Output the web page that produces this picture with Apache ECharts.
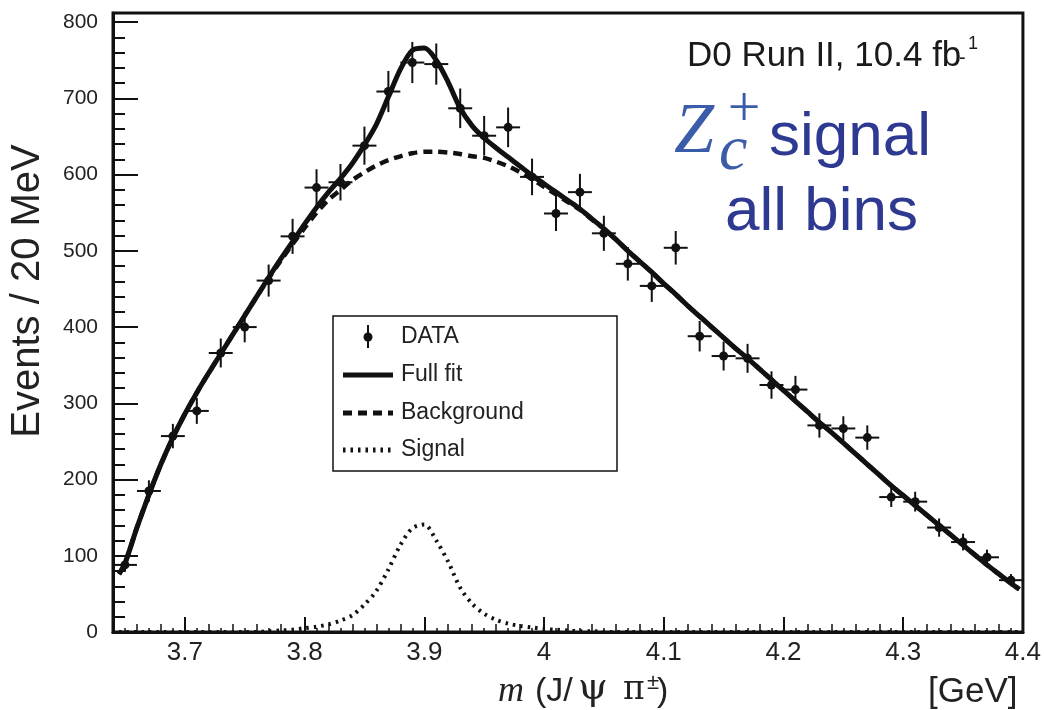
<!DOCTYPE html>
<html><head><meta charset="utf-8">
<script src="https://cdn.jsdelivr.net/npm/echarts@6/dist/echarts.min.js"></script>
<style>html,body{margin:0;padding:0;background:#fff}#chart{width:1044px;height:710px}</style>
</head><body><div id="chart"></div>
<script>
// ---- data ----
const binCenters = [3.65,3.67,3.69,3.71,3.73,3.75,3.77,3.79,3.81,3.83,3.85,3.87,3.89,3.91,3.93,3.95,3.97,3.99,4.01,4.03,4.05,4.07,4.09,4.11,4.13,4.15,4.17,4.19,4.21,4.23,4.25,4.27,4.29,4.31,4.33,4.35,4.37,4.39];
const counts = [88,185,257,290,366,400,461,519,583,590,638,709,747,745,687,651,662,597,549,577,523,483,454,504,388,362,359,324,318,271,267,255,177,171,137,118,98,68];
const errors = [9,14,16,17,19,20,21,23,24,24,25,27,27,27,26,26,26,24,23,24,23,22,21,22,20,19,19,18,18,16,16,16,13,13,12,11,10,8];

const fitX = [3.645,3.65,3.66,3.67,3.68,3.69,3.70,3.71,3.72,3.73,3.74,3.75,3.76,3.77,3.78,3.79,3.80,3.81,3.82,3.83,3.84,3.85,3.86,3.87,3.88,3.89,3.90,3.91,3.92,3.93,3.94,3.95,3.96,3.97,3.98,3.99,4.00,4.01,4.02,4.03,4.04,4.05,4.06,4.07,4.08,4.09,4.10,4.11,4.12,4.13,4.14,4.15,4.16,4.17,4.18,4.19,4.20,4.21,4.22,4.23,4.24,4.25,4.26,4.27,4.28,4.29,4.30,4.31,4.32,4.33,4.34,4.35,4.36,4.37,4.38,4.39,4.397];
const fullFit = [76,90,137,180,220,255,286,314,340,365,390,415,440,465,489,512,535,557,577,595,615,639,666,702,738,763,766,750,721,687,664,648,635,623,611,599,588,577,566,555,542,529,515,500,486,472,457,443,428,414,400,386,372,359,345,331,317,303,289,275,262,248,234,220,206,192,179,166,153,140,127,114,101,88,76,64,56];
const background = [76,90,137,180,220,255,286,314,340,365,390,415,440,464,487,509,530,550,567,580,593,603,612,619,624,628,630,630,629,627,624,622,617,611,603,594,584,574,564,554,541,529,515,500,486,472,457,443,428,414,400,386,372,359,345,331,317,303,289,275,262,248,234,220,206,192,179,166,153,140,127,114,101,88,76,64,56];
const signal = [0,0,0,0,0,0,0,0,0,0,0,0,0,1,2,3,5,7,10,15,22,36,54,82,114,136,141,120,92,58,37,24,16,11,8,6,4,3,2,1,1,0,0,0,0,0,0,0,0,0,0,0,0,0,0,0,0,0,0,0,0,0,0,0,0,0,0,0,0,0,0,0,0,0,0,0,0];

const xTickLabels = [3.7,3.8,3.9,4,4.1,4.2,4.3,4.4];
const yTickLabels = [0,100,200,300,400,500,600,700,800];

// minor tick positions (styling only)
const xMinor2 = [], xMinor1 = [], yMinor = [];
for (let i = 64; i <= 440; i++) {
  const v = Math.round(i) / 100;
  if (i % 10 === 0) continue;
  if (i % 2 === 0) xMinor2.push(v); else xMinor1.push(v);
}
for (let v = 20; v < 810; v += 20) if (v % 100 !== 0) yMinor.push(v);

const pairs = (xs, ys) => xs.map((x, i) => [x, ys[i]]);
const SANS = 'Liberation Sans, Arial, Helvetica, sans-serif';
const SERIF = 'Liberation Serif, Times New Roman, serif';
const GREEK = 'DejaVu Serif, Liberation Serif, serif';
const INK = '#111';

const chart = echarts.init(document.getElementById('chart'), null, {renderer: 'canvas'});

const xBase = {type: 'value', min: 3.64, max: 4.40, gridIndex: 0, position: 'bottom', splitLine: {show: false}};
const yBase = {type: 'value', min: 0, max: 812, gridIndex: 0, position: 'left', splitLine: {show: false}};

const option = {
  animation: false,
  backgroundColor: '#fff',
  grid: {left: 113, right: 19, top: 13, bottom: 78, show: true, borderColor: INK, borderWidth: 3, backgroundColor: '#fff'},
  xAxis: [
    Object.assign({}, xBase, {
      axisLine: {show: true, onZero: false, lineStyle: {color: INK, width: 3}},
      axisTick: {show: true, inside: true, length: 15, lineStyle: {color: INK, width: 2}, customValues: xTickLabels},
      axisLabel: {show: true, customValues: xTickLabels, fontSize: 26, fontFamily: SANS, color: '#222', margin: 8}
    }),
    Object.assign({}, xBase, {
      axisLine: {show: false, onZero: false},
      axisTick: {show: true, inside: true, length: 8, lineStyle: {color: INK, width: 1.5}, customValues: xMinor2},
      axisLabel: {show: false}
    }),
    Object.assign({}, xBase, {
      axisLine: {show: false, onZero: false},
      axisTick: {show: true, inside: true, length: 4, lineStyle: {color: INK, width: 1.5}, customValues: xMinor1},
      axisLabel: {show: false}
    })
  ],
  yAxis: [
    Object.assign({}, yBase, {
      axisLine: {show: true, onZero: false, lineStyle: {color: INK, width: 3}},
      axisTick: {show: true, inside: true, length: 25, lineStyle: {color: INK, width: 2}, customValues: yTickLabels},
      axisLabel: {show: true, customValues: yTickLabels, fontSize: 21, fontFamily: SANS, color: '#222', margin: 15}
    }),
    Object.assign({}, yBase, {
      axisLine: {show: false, onZero: false},
      axisTick: {show: true, inside: true, length: 12, lineStyle: {color: INK, width: 2}, customValues: yMinor},
      axisLabel: {show: false}
    })
  ],
  series: [
    {
      name: 'DATA', type: 'custom', xAxisIndex: 0, yAxisIndex: 0,
      data: binCenters.map((x, i) => [x, counts[i], errors[i]]),
      encode: {x: 0, y: 1},
      renderItem: function (params, api) {
        const x = api.value(0), y = api.value(1), e = api.value(2);
        const half = 0.01;
        const c = api.coord([x, y]);
        const t = api.coord([x, y + e]);
        const b = api.coord([x, y - e]);
        const l = api.coord([x - half, y]);
        const r = api.coord([x + half, y]);
        const ls = {stroke: INK, lineWidth: 2};
        return {type: 'group', children: [
          {type: 'line', shape: {x1: c[0], y1: t[1], x2: c[0], y2: b[1]}, style: ls},
          {type: 'line', shape: {x1: l[0], y1: c[1], x2: r[0], y2: c[1]}, style: ls},
          {type: 'circle', shape: {cx: c[0], cy: c[1], r: 4.5}, style: {fill: INK}}
        ]};
      },
      z: 2
    },
    {
      name: 'Signal', type: 'line', data: pairs(fitX, signal), showSymbol: false, smooth: 0.3,
      lineStyle: {color: INK, width: 4, type: [2.5, 5]}, z: 3
    },
    {
      name: 'Background', type: 'line', data: pairs(fitX, background), showSymbol: false, smooth: 0.3,
      lineStyle: {color: INK, width: 4.5, type: [9, 6]}, z: 3
    },
    {
      name: 'Full fit', type: 'line', data: pairs(fitX, fullFit), showSymbol: false, smooth: 0.3,
      lineStyle: {color: INK, width: 5}, z: 4
    }
  ],
  graphic: [
    // axis titles
    {type: 'text', x: 28, y: 291, rotation: Math.PI / 2,
      style: {text: 'Events / 20 MeV', font: '40px ' + SANS, fill: '#222', textAlign: 'center', textVerticalAlign: 'middle', align: 'center', verticalAlign: 'middle'}},
    {type: 'text', x: 498, y: 692, style: {text: 'm', font: 'italic 36px ' + SERIF, fill: '#222', textVerticalAlign: 'middle', verticalAlign: 'middle'}},
    {type: 'text', x: 535, y: 692, style: {text: '(J/', font: '34px ' + SANS, fill: '#222', textVerticalAlign: 'middle', verticalAlign: 'middle'}},
    {type: 'text', x: 578, y: 689, style: {text: 'ψ', font: '38px ' + GREEK, fill: '#222', textVerticalAlign: 'middle', verticalAlign: 'middle'}},
    {type: 'text', x: 623, y: 690, style: {text: 'π', font: '33px ' + GREEK, fill: '#222', textVerticalAlign: 'middle', verticalAlign: 'middle'}},
    {type: 'text', x: 647, y: 683, style: {text: '±', font: '22px ' + SANS, fill: '#222', textVerticalAlign: 'middle', verticalAlign: 'middle'}},
    {type: 'text', x: 657, y: 692, style: {text: ')', font: '34px ' + SANS, fill: '#222', textVerticalAlign: 'middle', verticalAlign: 'middle'}},
    {type: 'text', x: 928, y: 692, style: {text: '[GeV]', font: '35px ' + SANS, fill: '#222', textVerticalAlign: 'middle', verticalAlign: 'middle'}},
    // top-right annotations
    {type: 'text', x: 687, y: 56, style: {text: 'D0 Run II, 10.4 fb', font: '35px ' + SANS, fill: '#1a1a1a', textVerticalAlign: 'middle', verticalAlign: 'middle'}},
    {type: 'text', x: 959, y: 58, style: {text: '-', font: '20px ' + SANS, fill: '#1a1a1a', textVerticalAlign: 'middle', verticalAlign: 'middle'}},
    {type: 'text', x: 968, y: 44, style: {text: '1', font: '18px ' + SANS, fill: '#1a1a1a', textVerticalAlign: 'middle', verticalAlign: 'middle'}},
    {type: 'text', x: 674, y: 133, style: {text: 'Z', font: 'italic 72px ' + SERIF, fill: '#3b5ca8', textVerticalAlign: 'middle', verticalAlign: 'middle'}},
    {type: 'text', x: 719, y: 152, style: {text: 'c', font: 'italic 64px ' + SERIF, fill: '#3b5ca8', textVerticalAlign: 'middle', verticalAlign: 'middle'}},
    {type: 'text', x: 744, y: 111, style: {text: '+', font: '58px ' + SERIF, fill: '#3b5ca8', textAlign: 'center', align: 'center', textVerticalAlign: 'middle', verticalAlign: 'middle'}},
    {type: 'text', x: 769, y: 138, style: {text: 'signal', font: '62px ' + SANS, fill: '#2e3a92', textVerticalAlign: 'middle', verticalAlign: 'middle'}},
    {type: 'text', x: 725, y: 213, style: {text: 'all bins', font: '62px ' + SANS, fill: '#2e3a92', textVerticalAlign: 'middle', verticalAlign: 'middle'}},
    // legend
    {type: 'rect', shape: {x: 333, y: 316, width: 284, height: 155}, style: {fill: '#fff', stroke: INK, lineWidth: 1.5}, z: 50},
    {type: 'line', shape: {x1: 368, y1: 325, x2: 368, y2: 348}, style: {stroke: INK, lineWidth: 2}, z: 51},
    {type: 'circle', shape: {cx: 368, cy: 337, r: 4.5}, style: {fill: INK}, z: 51},
    {type: 'line', shape: {x1: 343, y1: 375, x2: 393, y2: 375}, style: {stroke: INK, lineWidth: 5}, z: 51},
    {type: 'line', shape: {x1: 343, y1: 413, x2: 393, y2: 413}, style: {stroke: INK, lineWidth: 5, lineDash: [9, 6]}, z: 51},
    {type: 'line', shape: {x1: 343, y1: 450, x2: 393, y2: 450}, style: {stroke: INK, lineWidth: 5, lineDash: [2.5, 5]}, z: 51},
    {type: 'text', x: 401, y: 337, style: {text: 'DATA', font: '23px ' + SANS, fill: '#222', textVerticalAlign: 'middle', verticalAlign: 'middle'}, z: 51},
    {type: 'text', x: 401, y: 375, style: {text: 'Full fit', font: '23px ' + SANS, fill: '#222', textVerticalAlign: 'middle', verticalAlign: 'middle'}, z: 51},
    {type: 'text', x: 401, y: 413, style: {text: 'Background', font: '23px ' + SANS, fill: '#222', textVerticalAlign: 'middle', verticalAlign: 'middle'}, z: 51},
    {type: 'text', x: 401, y: 450, style: {text: 'Signal', font: '23px ' + SANS, fill: '#222', textVerticalAlign: 'middle', verticalAlign: 'middle'}, z: 51}
  ]
};
chart.setOption(option);
</script></body></html>
